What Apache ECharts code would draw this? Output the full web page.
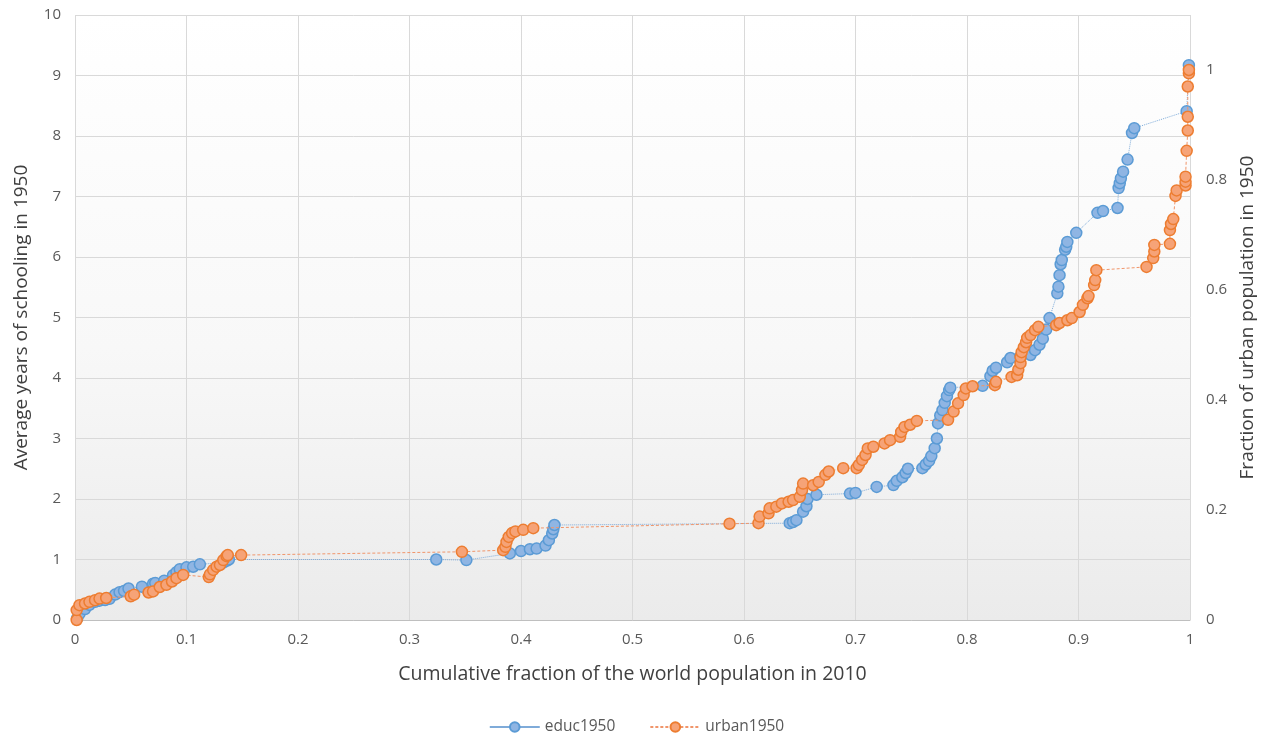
<!DOCTYPE html>
<html>
<head>
<meta charset="utf-8">
<script src="https://cdn.jsdelivr.net/npm/echarts@6/dist/echarts.min.js"></script>
<style>
html,body{margin:0;padding:0;background:#fff;}
#chart{width:1273px;height:742px;}
</style>
</head>
<body>
<div id="chart"></div>
<script>
// Cumulative fraction of world population (2010) and average years of schooling (1950)
const educX = [0.002,0.004,0.009,0.013,0.018,0.022,0.027,0.031,0.036,0.040,0.044,0.048,0.060,0.070,0.072,0.080,0.088,0.091,0.094,0.100,0.106,0.112,0.133,0.136,0.138,0.324,0.351,0.390,0.400,0.408,0.414,0.422,0.425,0.428,0.429,0.430,0.641,0.644,0.647,0.653,0.656,0.657,0.665,0.695,0.700,0.719,0.734,0.737,0.742,0.745,0.747,0.760,0.763,0.766,0.768,0.771,0.773,0.774,0.776,0.778,0.780,0.782,0.784,0.785,0.814,0.821,0.823,0.826,0.836,0.839,0.848,0.857,0.861,0.865,0.868,0.871,0.874,0.881,0.882,0.883,0.884,0.885,0.888,0.889,0.890,0.898,0.917,0.922,0.935,0.936,0.937,0.938,0.940,0.944,0.948,0.950,0.997,0.999];
const educY = [0.03,0.10,0.18,0.25,0.30,0.32,0.33,0.35,0.42,0.46,0.48,0.52,0.55,0.60,0.61,0.65,0.74,0.79,0.84,0.87,0.88,0.92,0.95,0.98,1.00,1.00,0.99,1.10,1.14,1.17,1.18,1.23,1.32,1.43,1.50,1.57,1.60,1.62,1.65,1.79,1.88,2.00,2.07,2.09,2.10,2.20,2.23,2.30,2.36,2.43,2.50,2.51,2.57,2.63,2.71,2.84,3.00,3.25,3.38,3.47,3.59,3.70,3.80,3.84,3.87,4.03,4.12,4.17,4.26,4.33,4.36,4.38,4.46,4.55,4.65,4.80,4.99,5.40,5.51,5.70,5.88,5.95,6.12,6.17,6.25,6.40,6.73,6.76,6.81,7.14,7.22,7.30,7.41,7.61,8.05,8.13,8.41,9.17];
// Cumulative fraction of world population (2010) and urban fraction (1950)
const urbanX = [0.0015,0.0015,0.004,0.009,0.013,0.018,0.022,0.028,0.050,0.053,0.066,0.070,0.076,0.082,0.087,0.091,0.097,0.120,0.121,0.124,0.127,0.130,0.133,0.136,0.137,0.149,0.347,0.384,0.386,0.387,0.389,0.392,0.395,0.402,0.411,0.587,0.613,0.614,0.622,0.623,0.629,0.634,0.640,0.644,0.650,0.652,0.653,0.662,0.667,0.673,0.676,0.689,0.701,0.703,0.706,0.709,0.711,0.716,0.726,0.731,0.740,0.741,0.744,0.749,0.755,0.783,0.788,0.792,0.797,0.799,0.805,0.825,0.826,0.840,0.845,0.846,0.848,0.848,0.849,0.851,0.853,0.854,0.857,0.861,0.864,0.880,0.883,0.890,0.894,0.901,0.904,0.908,0.909,0.914,0.915,0.916,0.961,0.967,0.968,0.968,0.982,0.982,0.983,0.985,0.987,0.988,0.996,0.996,0.996,0.997,0.998,0.998,0.998,0.999,0.999];
const urbanY = [0.000,0.018,0.027,0.030,0.033,0.036,0.039,0.040,0.043,0.046,0.050,0.052,0.060,0.064,0.070,0.076,0.082,0.078,0.083,0.091,0.097,0.100,0.109,0.116,0.118,0.118,0.124,0.127,0.133,0.142,0.151,0.158,0.161,0.164,0.167,0.175,0.176,0.188,0.194,0.203,0.206,0.212,0.215,0.218,0.224,0.236,0.248,0.245,0.251,0.264,0.270,0.276,0.276,0.282,0.291,0.300,0.312,0.315,0.321,0.327,0.333,0.342,0.351,0.355,0.362,0.364,0.379,0.394,0.409,0.421,0.425,0.427,0.433,0.442,0.445,0.455,0.467,0.478,0.487,0.496,0.505,0.513,0.518,0.527,0.533,0.536,0.540,0.545,0.549,0.560,0.573,0.585,0.589,0.609,0.618,0.636,0.642,0.658,0.670,0.682,0.684,0.709,0.720,0.729,0.771,0.781,0.790,0.797,0.806,0.853,0.890,0.915,0.970,0.994,1.000];

const xTicks = {min: 0, max: 1, interval: 0.1};
const leftTicks = {min: 0, max: 10, interval: 1};
const rightTicks = {min: 0, max: 1.1, interval: 0.2};

const FONT = 'Open Sans';
const chart = echarts.init(document.getElementById('chart'));
const pairs = (xs, ys) => xs.map((x, i) => [x, ys[i]]);

chart.setOption({
  animation: false,
  textStyle: {fontFamily: FONT},
  grid: {
    left: 75, right: 83, top: 15, bottom: 122,
    show: true, borderWidth: 0,
    backgroundColor: new echarts.graphic.LinearGradient(0, 0, 0, 1, [
      {offset: 0, color: '#ffffff'},
      {offset: 0.55, color: '#f8f8f8'},
      {offset: 1, color: '#ebebeb'}
    ])
  },
  legend: {
    bottom: 2, left: 'center', itemGap: 34, itemWidth: 50, itemHeight: 12,
    textStyle: {fontFamily: FONT, fontSize: 15.5, color: '#595959'},
    data: [
      {name: 'educ1950', lineStyle: {type: 'solid'}},
      {name: 'urban1950'}
    ]
  },
  xAxis: {
    type: 'value', min: xTicks.min, max: xTicks.max, interval: xTicks.interval,
    name: 'Cumulative fraction of the world population in 2010',
    nameLocation: 'middle', nameGap: 44,
    nameTextStyle: {fontFamily: FONT, fontSize: 19.5, color: '#404040'},
    axisLine: {show: true, lineStyle: {color: '#bfbfbf'}},
    axisTick: {show: false},
    axisLabel: {fontFamily: FONT, fontSize: 15, color: '#595959', margin: 12},
    splitLine: {show: true, lineStyle: {color: '#d9d9d9', width: 1}}
  },
  yAxis: [
    {
      type: 'value', min: leftTicks.min, max: leftTicks.max, interval: leftTicks.interval,
      name: 'Average years of schooling in 1950',
      nameLocation: 'middle', nameGap: 44, nameRotate: 90,
      nameTextStyle: {fontFamily: FONT, fontSize: 19, color: '#404040'},
      axisLine: {show: false}, axisTick: {show: false},
      axisLabel: {fontFamily: FONT, fontSize: 15, color: '#595959', margin: 14},
      splitLine: {show: true, lineStyle: {color: '#d9d9d9', width: 1}}
    },
    {
      type: 'value', min: rightTicks.min, max: rightTicks.max, interval: rightTicks.interval,
      position: 'right',
      name: 'Fraction of urban population in 1950',
      nameLocation: 'middle', nameGap: 48, nameRotate: 90,
      nameTextStyle: {fontFamily: FONT, fontSize: 19, color: '#404040'},
      axisLine: {show: false}, axisTick: {show: false},
      axisLabel: {fontFamily: FONT, fontSize: 15, color: '#595959', margin: 16, showMaxLabel: false},
      splitLine: {show: false}
    }
  ],
  series: [
    {
      name: 'educ1950', type: 'line', yAxisIndex: 0,
      data: pairs(educX, educY),
      symbol: 'circle', symbolSize: 11,
      itemStyle: {color: '#8fb5e3', borderColor: '#5b9bd5', borderWidth: 1.5},
      lineStyle: {color: '#7fabd9', width: 1, type: 'dotted'},
      z: 2
    },
    {
      name: 'urban1950', type: 'line', yAxisIndex: 1,
      data: pairs(urbanX, urbanY),
      symbol: 'circle', symbolSize: 11,
      itemStyle: {color: '#f6a377', borderColor: '#ed7d31', borderWidth: 1.5},
      lineStyle: {color: '#f0956a', width: 1, type: [3, 2]},
      z: 3
    }
  ]
});
</script>
</body>
</html>
